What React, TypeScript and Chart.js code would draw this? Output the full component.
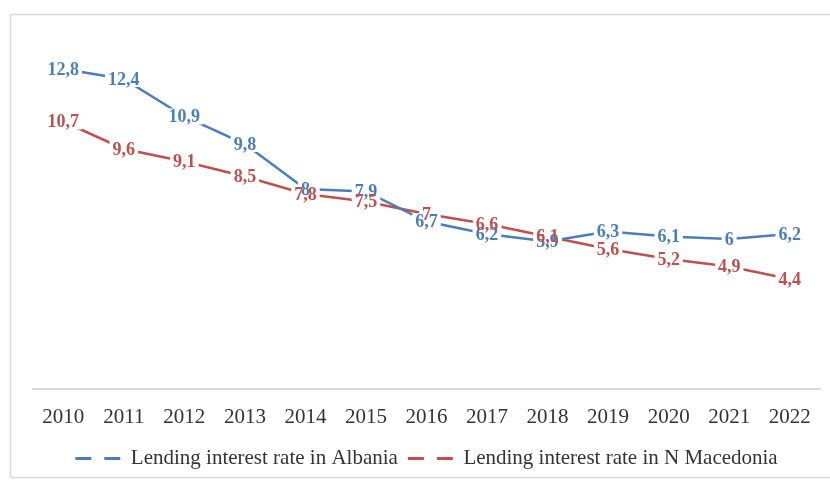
import React, { useEffect, useRef } from "react";
import { Chart, registerables } from "chart.js";

Chart.register(...registerables);

const years = ["2010", "2011", "2012", "2013", "2014", "2015", "2016", "2017", "2018", "2019", "2020", "2021", "2022"];
const albania = [12.8, 12.4, 10.9, 9.8, 8, 7.9, 6.7, 6.2, 5.9, 6.3, 6.1, 6, 6.2];
const macedonia = [10.7, 9.6, 9.1, 8.5, 7.8, 7.5, 7, 6.6, 6.1, 5.6, 5.2, 4.9, 4.4];
const seriesNames = ["Lending interest rate in Albania", "Lending interest rate in N Macedonia"];

const BLUE = "#4a7ebb";
const RED = "#c0504d";
const SERIF = "'Liberation Serif', 'Times New Roman', serif";

const borderPlugin = {
  id: "outerBorder",
  beforeDraw(chart: any) {
    const ctx = chart.ctx;
    ctx.save();
    ctx.fillStyle = "#ffffff";
    ctx.fillRect(0, 0, chart.width, chart.height);
    ctx.strokeStyle = "#d9d9d9";
    ctx.lineWidth = 1.5;
    ctx.strokeRect(10.5, 14.5, chart.width + 20, 463);
    ctx.restore();
  },
};

const labelPlugin = {
  id: "valueLabels",
  afterDatasetsDraw(chart: any) {
    const ctx = chart.ctx;
    ctx.save();
    ctx.font = `bold 18px ${SERIF}`;
    ctx.textAlign = "center";
    ctx.textBaseline = "middle";
    chart.data.datasets.forEach((ds: any, i: number) => {
      const meta = chart.getDatasetMeta(i);
      meta.data.forEach((pt: any, j: number) => {
        const txt = String(ds.data[j]).replace(".", ",");
        const w = ctx.measureText(txt).width;
        ctx.fillStyle = "#ffffff";
        ctx.fillRect(pt.x - w / 2 - 3, pt.y - 8, w + 6, 16);
      });
    });
    chart.data.datasets.forEach((ds: any, i: number) => {
      const meta = chart.getDatasetMeta(i);
      meta.data.forEach((pt: any, j: number) => {
        const txt = String(ds.data[j]).replace(".", ",");
        ctx.fillStyle = ds.borderColor;
        ctx.fillText(txt, pt.x, pt.y + 1);
      });
    });
    ctx.restore();
  },
};

export default function App() {
  const ref = useRef<HTMLCanvasElement | null>(null);
  useEffect(() => {
    if (!ref.current) return;
    const chart = new Chart(ref.current, {
      type: "line",
      data: {
        labels: years,
        datasets: [
          { label: seriesNames[0], data: albania, borderColor: BLUE, backgroundColor: BLUE, borderWidth: 2.5, pointRadius: 0, tension: 0 },
          { label: seriesNames[1], data: macedonia, borderColor: RED, backgroundColor: RED, borderWidth: 2.5, pointRadius: 0, tension: 0 },
        ],
      },
      options: {
        animation: false,
        responsive: true,
        maintainAspectRatio: false,
        layout: { padding: { left: 33, right: 10, top: 39, bottom: 2 } },
        scales: {
          x: {
            offset: true,
            grid: { display: false, drawTicks: false, offset: true },
            border: { display: true, color: "#d9d9d9", width: 2 },
            ticks: { color: "#333333", font: { family: SERIF, size: 21 }, padding: 16, maxRotation: 0 },
            afterFit(scale: any) { scale.height = 49; },
          },
          y: { display: false, min: 0, max: 14 },
        },
        plugins: {
          tooltip: { enabled: false },
          legend: {
            position: "bottom",
            labels: {
              usePointStyle: true,
              pointStyleWidth: 45,
              color: "#333333",
              font: { family: SERIF, size: 21 },
              padding: 10,
              generateLabels(ch: any) {
                return (Chart.defaults.plugins.legend.labels.generateLabels as any)(ch).map((l: any) => ({
                  ...l,
                  pointStyle: "line",
                  lineDash: [16, 13],
                  lineWidth: 3,
                }));
              },
            },
          },
        },
      },
      plugins: [borderPlugin, labelPlugin],
    });
    return () => chart.destroy();
  }, []);
  return (
    <div style={{ position: "absolute", left: 0, top: 0, width: 830, height: 481 }}>
      <canvas ref={ref} />
    </div>
  );
}
